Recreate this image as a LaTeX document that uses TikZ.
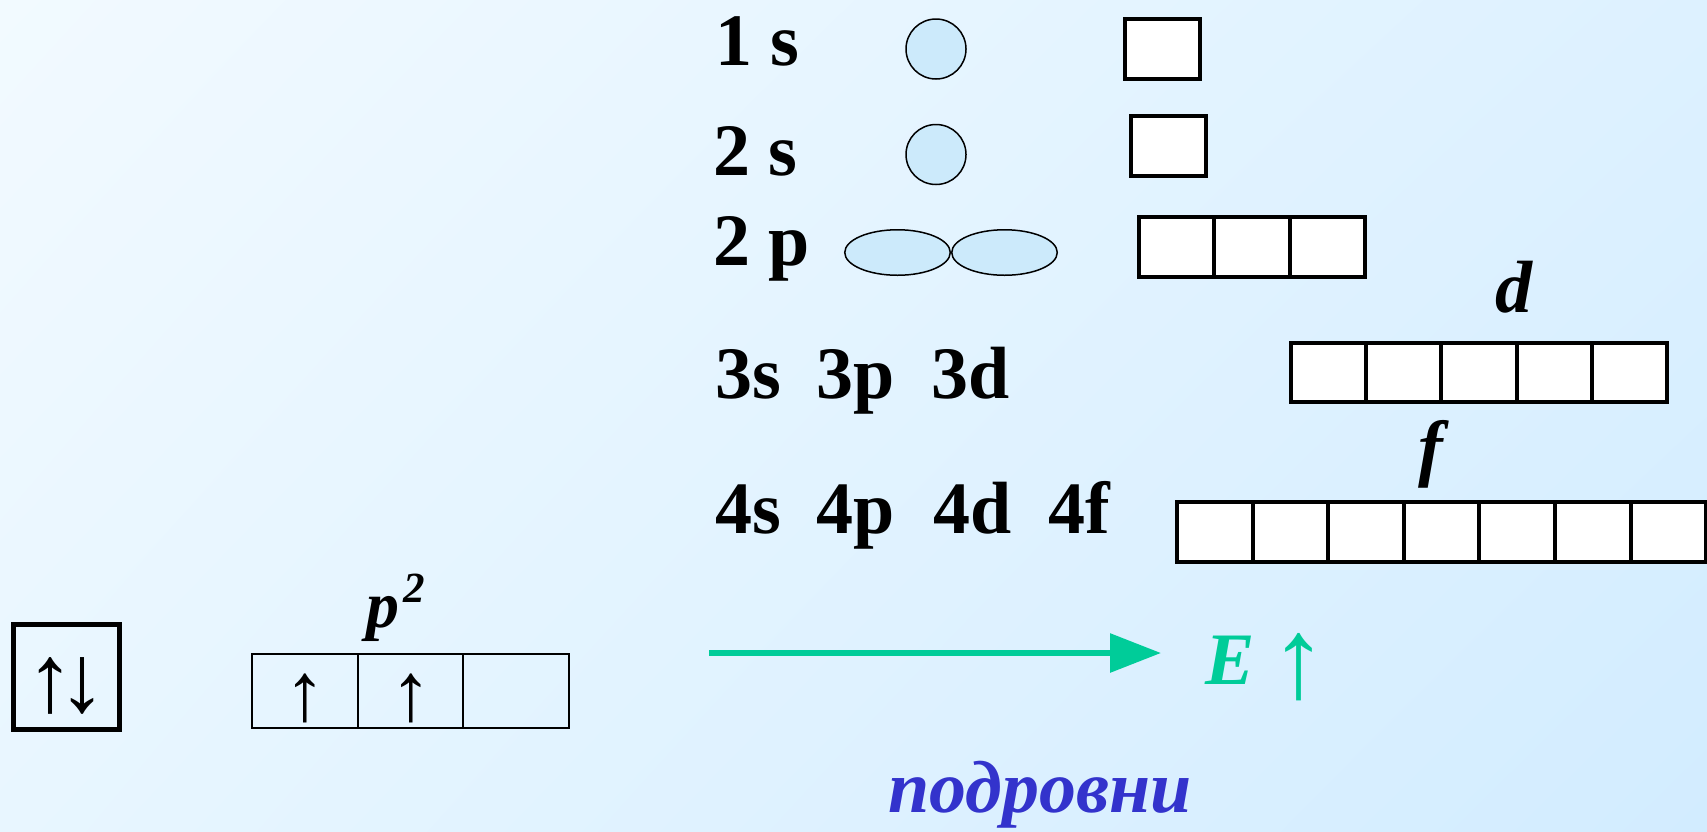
\documentclass[tikz,border=0pt]{standalone}
\usepackage{fontspec}
\setmainfont{Liberation Serif}
\usetikzlibrary{arrows.meta,shapes.geometric,shadings}
\definecolor{orb}{RGB}{204,234,251}
\definecolor{egreen}{RGB}{0,204,153}
\definecolor{sublue}{RGB}{51,51,204}
\definecolor{bgTL}{RGB}{242,250,255}
\definecolor{bgTR}{RGB}{221,241,255}
\definecolor{bgBL}{RGB}{232,246,255}
\definecolor{bgBR}{RGB}{210,236,255}
\begin{document}
\begin{tikzpicture}[x=1pt,y=-1pt,
  lab/.style={font=\fontsize{74}{80}\selectfont\bfseries, inner sep=0pt, anchor=base west},
  ilab/.style={font=\fontsize{74}{80}\selectfont\bfseries\itshape, inner sep=0pt, anchor=base west},
  cell/.style={draw, line width=4pt, fill=white, rectangle, inner sep=0pt, minimum width=75.4pt, minimum height=60pt},
  thincell/.style={draw, line width=2pt, rectangle, inner sep=0pt, minimum width=105.7pt, minimum height=74pt},
  orbs/.style={circle, draw, line width=1.5pt, fill=orb, minimum size=60pt, inner sep=0pt},
  orbp/.style={ellipse, draw, line width=1.5pt, fill=orb, minimum width=105.5pt, minimum height=45.5pt, inner sep=0pt},
  spin/.style={font=\fontsize{83}{83}\selectfont, inner sep=0pt},
  bigspin/.style={font=\fontsize{96}{96}\selectfont, inner sep=0pt}
]
\useasboundingbox (0,0) rectangle (1707,831);
\shade[upper left=bgTL, upper right=bgTR, lower left=bgBL, lower right=bgBR] (0,0) rectangle (1707,831);

% level labels
\node[lab] (l1s) at (715,65) {1 s};
\node[lab] (l2s) at (713,175) {2 s};
\node[lab] (l2p) at (713,265) {2 p};
\node[lab] (l3s) at (715,398) {3s};
\node[lab] (l3p) at (816,398) {3p};
\node[lab] (l3d) at (931,398) {3d};
\node[lab] (l4s) at (715,533) {4s};
\node[lab] (l4p) at (816,533) {4p};
\node[lab] (l4d) at (933,533) {4d};
\node[lab] (l4f) at (1048,533) {4f};

% orbitals shapes
\node[orbs] (o1s) at (936,49) {};
\node[orbs] (o2s) at (936,154.5) {};
\node[orbp] (o2pa) at (897.5,252.5) {};
\node[orbp] (o2pb) at (1004.5,252.5) {};

% cells
\node[cell, minimum width=75pt] (c1s) at (1162.5,49) {};
\node[cell, minimum width=75pt] (c2s) at (1168.5,146) {};
\foreach \i in {0,1,2}{
  \node[cell, minimum width=75.3pt] (c2p\i) at ({1176.7+75.3*\i},247) {};
}
\foreach \i in {0,...,4}{
  \node[cell, minimum width=75.2pt, minimum height=59pt] (c3d\i) at ({1328.6+75.2*\i},372.5) {};
}
\foreach \i in {0,...,6}{
  \node[cell, minimum width=75.6pt] (c4f\i) at ({1214.8+75.6*\i},532) {};
}
\node[ilab] (dl) at (1495,312) {d};
\node[ilab] (fl) at (1418,472) {f};

% left examples
\node[draw, line width=5pt, rectangle, inner sep=0pt, minimum width=106pt, minimum height=105pt] (pair) at (66.5,677) {};
\node[bigspin] (up0) at (50.5,685.5) {↑};
\node[bigspin] (dn0) at (82,685.5) {↓};

\foreach \i in {0,1,2}{
  \node[thincell] (pc\i) at ({304.8+105.7*\i},691) {};
}
\node[spin] (up1) at (305,698.5) {↑};
\node[spin] (up2) at (411,698.5) {↑};
\node[ilab, font=\fontsize{66}{70}\selectfont\bfseries\itshape] (p2) at (366,627) {p\kern4pt\raisebox{25pt}{\fontsize{43}{43}\selectfont 2}};

% energy arrow
\coordinate (a0) at (709,653);
\coordinate (a1) at (1161,653);
\draw[egreen, line width=6pt, -{Triangle[length=51pt,width=38pt]}] (a0) -- (a1);
\node[ilab, text=egreen] (E) at (1205,684) {E};
\node[font=\fontsize{114}{114}\selectfont, inner sep=0pt, text=egreen] (Eup) at (1298.5,667.5) {↑};

\node[ilab, text=sublue] (pod) at (888,812) {подровни};
\end{tikzpicture}
\end{document}
